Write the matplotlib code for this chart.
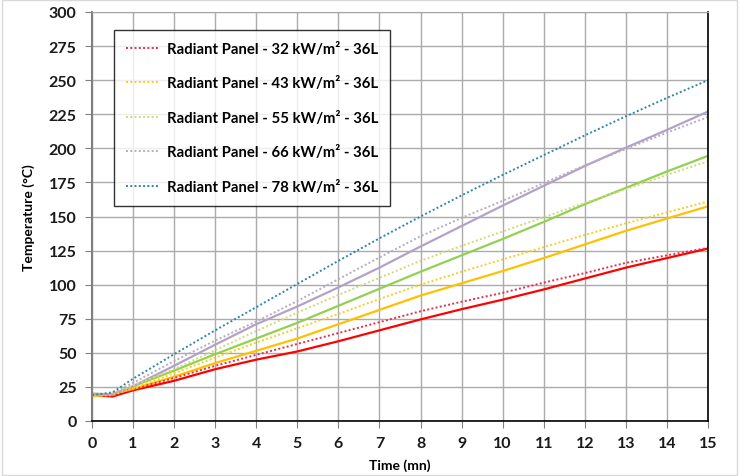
import numpy as np
import matplotlib.pyplot as plt
from matplotlib.patches import Rectangle

plt.rcParams['font.family'] = ['Lato', 'DejaVu Sans']

# time axis (minutes)
TIME = [0, 0.5, 1, 2, 3, 4, 5, 6, 7, 8, 9, 10, 11, 12, 13, 14, 15]

# measured temperatures (solid lines)
MEAS_32 = [19, 18, 22.5, 29.5, 38, 45, 51, 58.5, 66.5, 74.5, 82, 89, 96.5, 104.5, 112.5, 119.5, 126.5]
MEAS_43 = [18, 20, 23.5, 32.5, 42.5, 51.5, 60.5, 71, 81.5, 92, 101, 110, 119.5, 129.5, 139.5, 148.5, 157.5]
MEAS_55 = [20, 19.5, 25.5, 37, 49, 60.5, 72, 84.5, 97, 109.5, 121.5, 133.5, 146, 159, 171, 183, 194.5]
MEAS_66 = [20, 19.5, 25.5, 40.5, 56, 71, 84, 98, 112.5, 128, 143, 158, 172.5, 187, 200.5, 213.5, 227]

# radiant panel model (dotted lines)
MODEL_32 = [19, 19.5, 23.5, 31.5, 40.5, 48.5, 56.5, 64.5, 72.5, 80.5, 87.5, 94, 101.5, 108.5, 116, 121.5, 127]
MODEL_43 = [18, 19, 24, 35, 46.5, 57.5, 68, 78.5, 89.5, 100, 109.5, 118.5, 127.5, 136.5, 145, 153, 161]
MODEL_55 = [19, 20, 26, 38, 52, 66, 79.5, 92.5, 105, 117.5, 128.5, 139, 149.5, 160, 170, 180.5, 190.5]
MODEL_66 = [19, 20, 28, 44, 59, 73, 88, 104, 120, 135.5, 149, 161.5, 174.5, 187.5, 199.5, 211.5, 223]
MODEL_78 = [19, 21, 31, 49, 66.5, 83.5, 100.5, 117.5, 134, 150, 165.5, 180.5, 195, 209.5, 223.5, 237, 250]

LABELS = ["Radiant Panel - 32 kW/m² - 36L",
          "Radiant Panel - 43 kW/m² - 36L",
          "Radiant Panel - 55 kW/m² - 36L",
          "Radiant Panel - 66 kW/m² - 36L",
          "Radiant Panel - 78 kW/m² - 36L"]

fig = plt.figure(figsize=(7.39, 4.77), dpi=100)
ax = fig.add_axes([92/739, 1 - 422/477, 616/739, 409/477])

# solid measured curves
ax.plot(TIME, MEAS_32, color='#FF0000', lw=1.6)
ax.plot(TIME, MEAS_43, color='#FFC000', lw=1.6)
ax.plot(TIME, MEAS_55, color='#92D050', lw=1.6)
ax.plot(TIME, MEAS_66, color='#B3A2C7', lw=1.6)

# dotted model curves
models = [MODEL_32, MODEL_43, MODEL_55, MODEL_66, MODEL_78]
mcolors = ['#E0304A', '#F5D020', '#D2D87A', '#B8ABBE', '#2E86A8']
handles = []
for vals, c, lab in zip(models, mcolors, LABELS):
    h, = ax.plot(TIME, vals, color=c, lw=1.4, ls=(0, (1, 1.2)), label=lab)
    handles.append(h)

ax.set_xlim(0, 15)
ax.set_ylim(0, 300)
ax.set_xticks(range(0, 16))
ax.set_yticks(range(0, 301, 25))
ax.grid(True, color='#ABABAB', lw=1.0)
ax.set_axisbelow(True)
ax.tick_params(axis='both', direction='out', length=5, color='#808080',
               labelsize=11.5, pad=6)
for lbl in ax.get_xticklabels() + ax.get_yticklabels():
    lbl.set_fontweight('bold')
    lbl.set_color('#1A1A1A')

ax.spines['left'].set_color('#808080')
ax.spines['left'].set_linewidth(1.5)
ax.spines['top'].set_color('#A6A6A6')
ax.spines['bottom'].set_color('black')
ax.spines['bottom'].set_linewidth(1.2)
ax.spines['right'].set_color('black')
ax.spines['right'].set_linewidth(1.2)

ax.set_xlabel('Time (mn)', fontsize=10, fontweight='bold', labelpad=6)
ax.set_ylabel('Temperature (°C)', fontsize=10, fontweight='bold', labelpad=10)

leg = ax.legend(handles=handles, loc='upper left', bbox_to_anchor=(0.036, 0.956),
                prop={'family': ['Lato', 'DejaVu Sans'], 'weight': 'bold', 'size': 10.7},
                frameon=True, fancybox=False, edgecolor='black',
                handlelength=2.3, handletextpad=0.45, labelspacing=1.38,
                borderpad=0.8, borderaxespad=0)
leg.get_frame().set_linewidth(1.0)

# light border around the chart area
fig.patches.append(Rectangle((0.003, 0.003), 0.994, 0.994, transform=fig.transFigure,
                             fill=False, edgecolor='#D9D9D9', lw=1.0))

plt.savefig('out.png', dpi=100)
